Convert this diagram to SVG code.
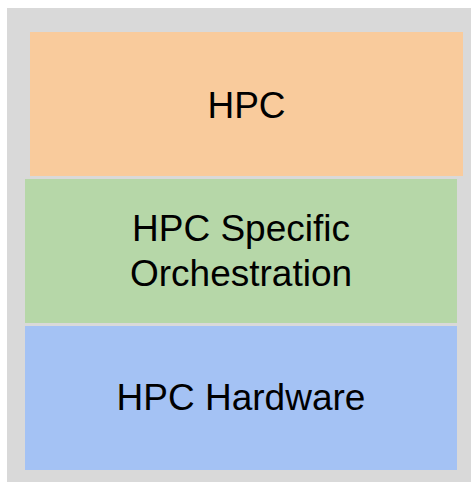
<svg xmlns="http://www.w3.org/2000/svg" width="471" height="482" viewBox="0 0 471 482">
<style>
text { font-family: "Liberation Sans", Arial, sans-serif; font-size: 37px; fill: #000; text-anchor: middle; }
</style>
<rect width="471" height="482" fill="#ffffff"/>
<g id="container"><rect x="7" y="8" width="464" height="474" fill="#d9d9d9"/></g>
<g id="hpc">
<rect x="30" y="32" width="433" height="144" fill="#f9cb9c"/>
<text x="246.5" y="117.5">HPC</text>
</g>
<g id="orchestration">
<rect x="25" y="179" width="432" height="144" fill="#b6d7a8"/>
<text x="241" y="241">HPC Specific</text>
<text x="241" y="286">Orchestration</text>
</g>
<g id="hardware">
<rect x="25" y="326" width="432" height="144" fill="#a4c2f4"/>
<text x="241" y="410">HPC Hardware</text>
</g>
<g id="connectors"></g>
</svg>
